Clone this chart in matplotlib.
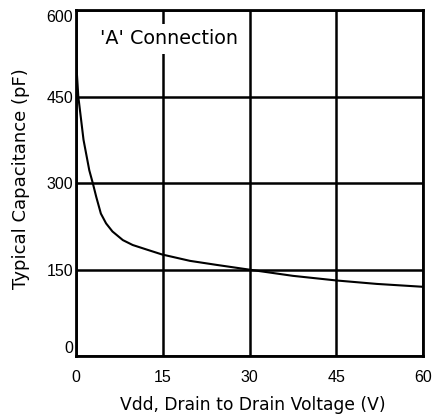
import matplotlib
matplotlib.use('Agg')
from matplotlib import pyplot as plt

# Capacitance curve
vdd = [0, 0.4, 1.3, 2.3, 2.9, 3.5, 4.3, 5.2, 6.3, 8.1, 9.8, 12.1, 14.9,
       19.7, 24.3, 29.8, 37.5, 45, 52, 60]
cap = [515, 450, 375, 322, 300, 276, 247, 230, 216, 201, 192.5, 185, 176,
       165, 158, 150, 139, 131, 125, 120]
xticks = [0, 15, 30, 45, 60]
yticks = [0, 150, 300, 450, 600]

plt.rcParams['font.family'] = ['Liberation Sans', 'DejaVu Sans']

fig = plt.figure(figsize=(4.38, 4.19), dpi=100)
ax = fig.add_axes([0.1735, 0.1504, 0.7923, 0.8256])

ax.set_xlim(0, 60)
ax.set_ylim(0, 600)
ax.set_xticks(xticks)
ax.set_yticks(yticks)
ax.tick_params(length=0, labelsize=11.5)
ax.tick_params(axis='x', pad=10)
ax.tick_params(axis='y', pad=2)
ylabs = ax.get_yticklabels()
ylabs[0].set_verticalalignment('bottom')
ylabs[-1].set_verticalalignment('top')
ax.grid(True, color='black', linewidth=1.8)
for s in ax.spines.values():
    s.set_linewidth(2)

ax.plot(vdd, cap, color='black', linewidth=1.5, zorder=3)

ax.text(4.2, 550, "'A' Connection", fontsize=13.8, va='center', ha='left',
        family='DejaVu Sans',
        bbox=dict(facecolor='white', edgecolor='none', pad=4), zorder=4)

ax.set_xlabel('Vdd, Drain to Drain Voltage (V)', fontsize=12.3, family='DejaVu Sans')
ax.set_ylabel('Typical Capacitance (pF)', fontsize=13, family='DejaVu Sans')
ax.xaxis.set_label_coords(0.51, -0.115)
ax.yaxis.set_label_coords(-0.133, 0.513)

fig.savefig('out.png', dpi=100)
